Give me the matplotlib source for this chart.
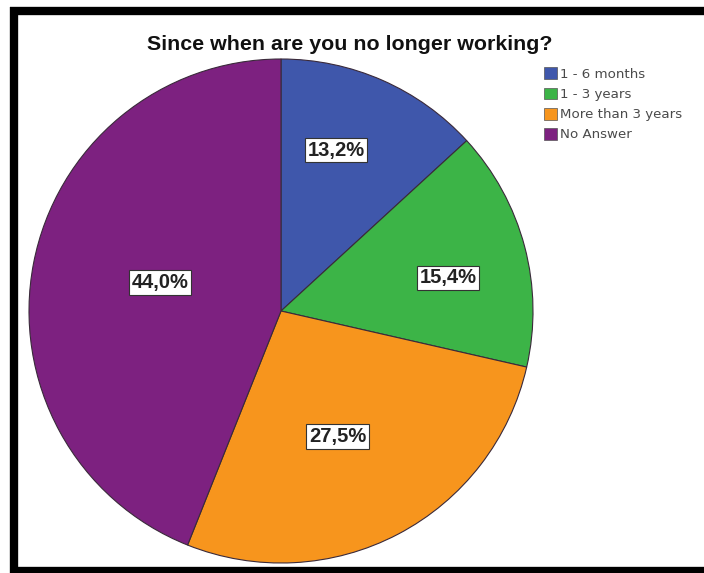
import matplotlib
matplotlib.use("Agg")
import matplotlib.pyplot as plt
import numpy as np
from matplotlib.lines import Line2D
from matplotlib.patches import Patch

plt.rcParams['font.family'] = ['Liberation Sans', 'DejaVu Sans']

categories = ["1 - 6 months", "1 - 3 years", "More than 3 years", "No Answer"]
percentages = [13.2, 15.4, 27.5, 44.0]
value_labels = ["13,2%", "15,4%", "27,5%", "44,0%"]
colors = ["#3f57ab", "#3cb447", "#f7951d", "#7d2180"]
# label placement: radial fraction and angular nudge (degrees) from the wedge middle
label_radius = [0.675, 0.675, 0.547, 0.494]
label_nudge = [4.9, -3.6, -3.5, -2.3]

W, H = 704, 573
fig = plt.figure(figsize=(W / 100, H / 100), dpi=100)
fig.patch.set_facecolor("white")

# pie axes: centre (281, 311) px, radius 252 px
cx, cy, r = 281, 311, 252
ax = fig.add_axes([(cx - r) / W, (H - cy - r) / H, 2 * r / W, 2 * r / H])

wedges, _ = ax.pie(percentages, colors=colors, startangle=90, counterclock=False,
                   radius=1, wedgeprops=dict(edgecolor="#3a2a3a", linewidth=0.8))
ax.set_xlim(-1, 1)
ax.set_ylim(-1, 1)
ax.set_aspect("equal")
ax.axis("off")

total = sum(percentages)
start = 90.0
for p, lab, rr, dn in zip(percentages, value_labels, label_radius, label_nudge):
    mid = np.deg2rad(start - p / total * 360 / 2 + dn)
    start -= p / total * 360
    ax.text(rr * np.cos(mid), rr * np.sin(mid), lab, ha="center", va="center",
            fontsize=14.5, fontweight="bold", color="#222222",
            bbox=dict(boxstyle="square,pad=0.14", facecolor="white",
                      edgecolor="#333333", linewidth=0.8))

fig.text(350 / W, 1 - 45 / H, "Since when are you no longer working?",
         ha="center", va="center", fontsize=15.4, fontweight="bold", color="#111111")

handles = [Patch(facecolor=c, edgecolor="#555555", linewidth=0.5) for c in colors]
leg = fig.legend(handles, categories, loc="upper left", bbox_to_anchor=(535 / W, 1 - 58 / H),
                 frameon=False, handlelength=0.95, handleheight=1.0,
                 handletextpad=0.25, labelspacing=0.5, borderpad=0.2,
                 labelcolor="#4a4a4a", prop={'family': 'DejaVu Sans', 'size': 9.6})

# black frame along the left, top and bottom
frame_kw = dict(color="black", linewidth=6, transform=fig.transFigure, solid_capstyle="butt")
fig.add_artist(Line2D([14 / W, 14 / W], [1 - 7 / H, 0], **frame_kw))
fig.add_artist(Line2D([10 / W, 1], [1 - 11 / H, 1 - 11 / H], **frame_kw))
fig.add_artist(Line2D([10 / W, 1], [1 - 571 / H, 1 - 571 / H], **frame_kw))

fig.savefig("out.png", dpi=100)
